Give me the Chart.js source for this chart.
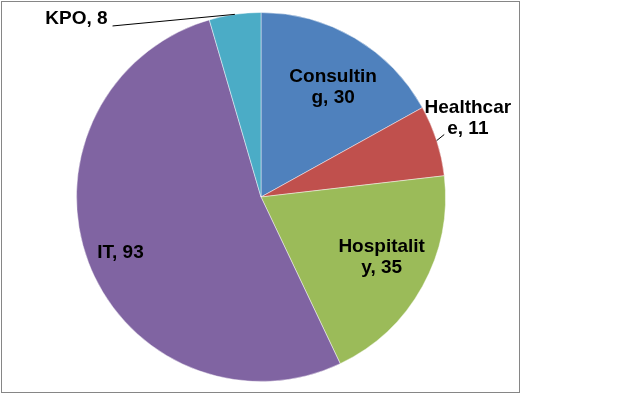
<!DOCTYPE html>
<html lang="en">
<head>
  <meta charset="UTF-8">
  <title>Sector pie</title>
  <script src="https://cdn.jsdelivr.net/npm/chart.js"></script>
  <style>
    body {
      margin: 0;
      background: #fff;
    }
  </style>
</head>
<body>
  <canvas id="pie" width="640" height="400"></canvas>

  <script>
    const sectors = ['Consulting', 'Healthcare', 'Hospitality', 'IT', 'KPO'];
    const counts = [30, 11, 35, 93, 8];
    // label text as it wraps in the original
    const labelLines = [
      ['Consultin', 'g, 30'],
      ['Healthcar', 'e, 11'],
      ['Hospitalit', 'y, 35'],
      ['IT, 93'],
      ['KPO, 8']
    ];
    const colors = ['#4f81bd', '#c0504d', '#9bbb59', '#8064a2', '#4bacc6'];

    // [radius factor, angle shift in degrees] from each slice's middle
    const labelPlace = [[0.71, 2.9], [1.2, -3.1], [0.73, -2.6], [0.82, -0.9], [1.39, -37.9]];
    const leaders = [false, true, false, false, true];

    const frame = {
      id: 'frame',
      beforeDraw(chart) {
        const c = chart.ctx;
        c.save();
        c.strokeStyle = '#868686';
        c.lineWidth = 1;
        c.strokeRect(1.5, 1.5, 518, 391);
        c.restore();
      }
    };

    const sliceLabels = {
      id: 'sliceLabels',
      afterDatasetsDraw(chart) {
        const c = chart.ctx;
        const arcs = chart.getDatasetMeta(0).data;
        c.save();
        c.font = 'bold 19px "Liberation Sans", Arial, sans-serif';
        c.fillStyle = '#000';
        c.textAlign = 'center';
        c.textBaseline = 'middle';
        arcs.forEach((arc, i) => {
          const mid = (arc.startAngle + arc.endAngle) / 2;
          const a = mid + labelPlace[i][1] * Math.PI / 180;
          const r = arc.outerRadius * labelPlace[i][0];
          const lx = arc.x + Math.cos(a) * r;
          const ly = arc.y + Math.sin(a) * r;
          const lines = labelLines[i];
          const lh = 21;
          const y0 = ly - (lines.length - 1) * lh / 2;
          lines.forEach((t, k) => c.fillText(t, lx, y0 + k * lh));

          if (leaders[i]) {
            const ex = arc.x + Math.cos(mid) * arc.outerRadius;
            const ey = arc.y + Math.sin(mid) * arc.outerRadius;
            const last = lines[lines.length - 1];
            const w = c.measureText(last).width;
            const yl = y0 + (lines.length - 1) * lh;
            let sx, sy;
            if (ex > lx) {
              sx = lx + w / 2 + 5;
              sy = yl + 7;
            } else {
              sx = lx - w / 2 - 3;
              sy = yl + 6;
            }
            c.strokeStyle = '#000';
            c.lineWidth = 1;
            c.beginPath();
            c.moveTo(sx, sy);
            c.lineTo(ex, ey);
            c.stroke();
          }
        });
        c.restore();
      }
    };

    new Chart(document.getElementById('pie'), {
      type: 'pie',
      data: {
        labels: sectors,
        datasets: [{
          data: counts,
          backgroundColor: colors,
          borderColor: 'rgba(255,255,255,0.45)',
          borderWidth: 1
        }]
      },
      options: {
        responsive: false,
        animation: false,
        layout: {
          padding: { left: 76, right: 194, top: 12, bottom: 18 }
        },
        plugins: {
          legend: { display: false },
          tooltip: { enabled: false }
        }
      },
      plugins: [frame, sliceLabels]
    });
  </script>
</body>
</html>
